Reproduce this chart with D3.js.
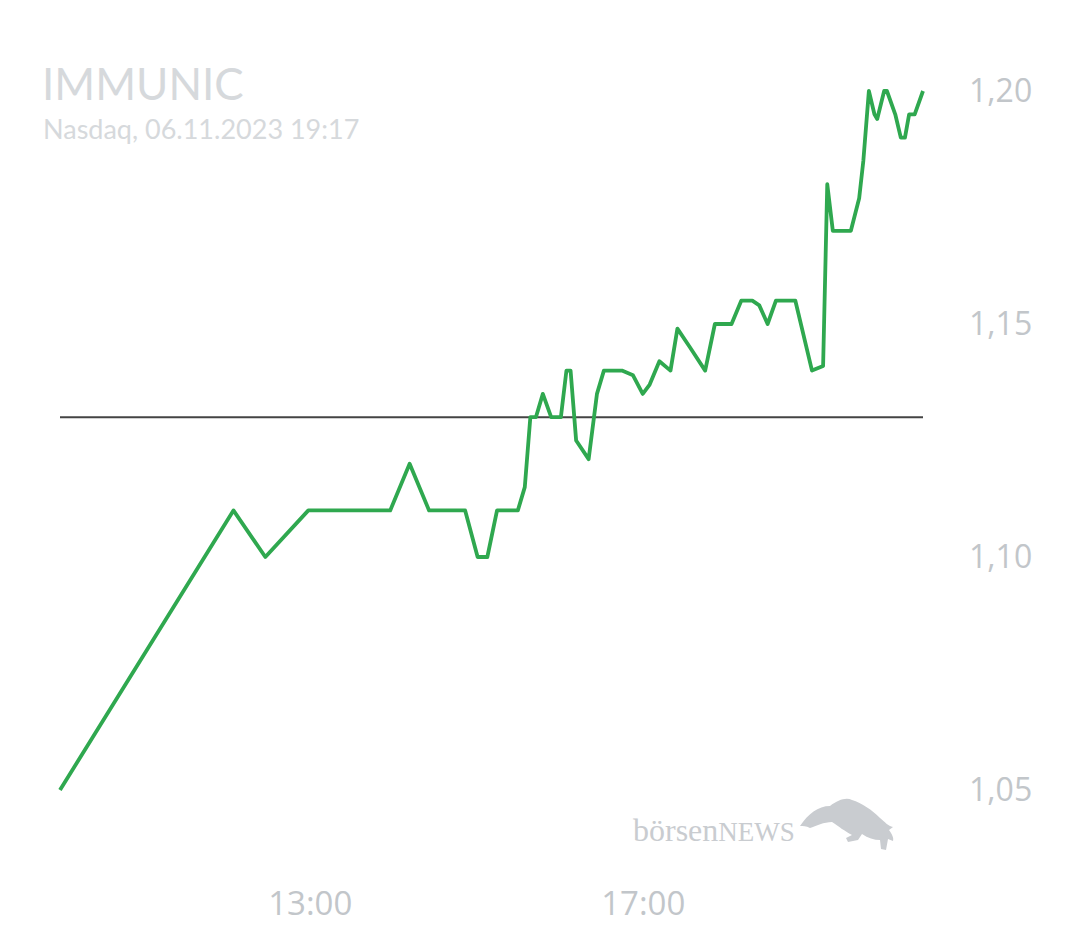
<!DOCTYPE html>
<html lang="de">
    <head>
        <meta charset="utf-8">
        <title>IMMUNIC</title>
        <script src="https://cdn.jsdelivr.net/npm/d3@7"></script>
        <style type="text/css">
            body { margin: 0; background: #fff; }
            #chart { width: 1080px; height: 945px; }
            .title { font-family: Lato, sans-serif; fill: #d6d9dc; }
            .tick text { font-family: "Open Sans", sans-serif; fill: #c2c6ca; }
        </style>
    </head>
    <body>
        <div id="chart"></div>
        <script>
            // Kursverlauf (Uhrzeit, Kurs)
            var times = ["10:00","12:05","12:28","12:59","13:58","14:12","14:26","14:52","15:01","15:08",
                         "15:15","15:30","15:35","15:39","15:43","15:48","15:54","16:01","16:05","16:08",
                         "16:12","16:21","16:27","16:32","16:45","16:53","17:00","17:05","17:12","17:20",
                         "17:25","17:34","17:45","17:52","18:04","18:11","18:19","18:24","18:30","18:36",
                         "18:50","19:02","19:10","19:13","19:17","19:30","19:36","19:39","19:43","19:47",
                         "19:49","19:54","19:56","20:02","20:06","20:09","20:12","20:16","20:22"];
            var prices = [1.05, 1.11, 1.10, 1.11, 1.11, 1.12, 1.11, 1.11, 1.10, 1.10,
                          1.11, 1.11, 1.115, 1.13, 1.13, 1.135, 1.13, 1.13, 1.14, 1.14,
                          1.125, 1.121, 1.135, 1.14, 1.14, 1.139, 1.135, 1.137, 1.142, 1.14,
                          1.149, 1.145, 1.14, 1.15, 1.15, 1.155, 1.155, 1.154, 1.15, 1.155,
                          1.155, 1.14, 1.141, 1.18, 1.17, 1.17, 1.177, 1.185, 1.20, 1.195,
                          1.194, 1.20, 1.20, 1.195, 1.19, 1.19, 1.195, 1.195, 1.20];
            var prevClose = 1.13;
            var yTicks = [1.05, 1.10, 1.15, 1.20];
            var xTicks = ["13:00", "17:00"];

            var parse = d3.timeParse("%H:%M");
            var data = times.map(function(t, i) {
                return { t: parse(t), v: prices[i] };
            });

            var svg = d3.select("#chart").append("svg")
                .attr("width", 1080)
                .attr("height", 945);

            // Skalen
            var x = d3.scaleTime()
                .domain(d3.extent(data, function(d) { return d.t; }))
                .range([60, 923]);
            var y = d3.scaleLinear()
                .domain([1.05, 1.20])
                .range([790, 91]);

            // Titel
            svg.append("text").attr("class", "title")
                .attr("x", 42).attr("y", 100)
                .style("font-size", "44px")
                .text("IMMUNIC");
            svg.append("text").attr("class", "title")
                .attr("x", 43).attr("y", 139)
                .style("font-size", "27px")
                .text("Nasdaq, 06.11.2023 19:17");

            // Y-Achse rechts
            var yAxis = d3.axisRight(y)
                .tickValues(yTicks)
                .tickSize(0)
                .tickPadding(0)
                .tickFormat(function(d) { return d3.format(".2f")(d).replace(".", ","); });
            svg.append("g")
                .attr("transform", "translate(969,0)")
                .call(yAxis)
                .call(function(g) { g.select(".domain").remove(); })
                .selectAll("text").style("font-size", "32px");

            // X-Achse
            var xAxis = d3.axisBottom(x)
                .tickValues(xTicks.map(parse))
                .tickSize(0)
                .tickPadding(0)
                .tickFormat(d3.timeFormat("%H:%M"));
            svg.append("g")
                .attr("transform", "translate(0,892)")
                .call(xAxis)
                .call(function(g) { g.select(".domain").remove(); })
                .selectAll("text").style("font-size", "33px");

            // Vortagesschluss
            svg.append("line")
                .attr("x1", x.range()[0]).attr("x2", x.range()[1])
                .attr("y1", y(prevClose)).attr("y2", y(prevClose))
                .attr("stroke", "#444")
                .attr("stroke-width", 2);

            // Kurslinie
            var line = d3.line()
                .x(function(d) { return x(d.t); })
                .y(function(d) { return y(d.v); });
            svg.append("path")
                .datum(data)
                .attr("d", line)
                .attr("fill", "none")
                .attr("stroke", "#2fa84f")
                .attr("stroke-width", 3.8)
                .attr("stroke-linejoin", "round");

            // Logo
            var logo = svg.append("g").attr("fill", "#c9ccd0");
            var word = logo.append("text")
                .attr("x", 633).attr("y", 841)
                .style("font-family", "'Liberation Serif', serif")
                .style("font-size", "32px");
            word.append("tspan").text("börsen");
            word.append("tspan").style("font-size", "27px").text("NEWS");
            logo.append("path")
                .attr("d", "M800,826 C808,814 818,806 830,806 C838,800 846,797 852,800 C862,803 872,810 880,818 " +
                           "C885,822 888,826 893,827 L889,830 C892,834 894,838 893,841 L888,839 L886,850 L881,849 " +
                           "L880,840 C874,840 868,838 862,834 L858,840 L848,842 L846,838 L852,835 " +
                           "C846,832 838,826 832,822 C824,822 816,826 810,828 C806,826 803,826 800,826 Z");
        </script>
    </body>
</html>
